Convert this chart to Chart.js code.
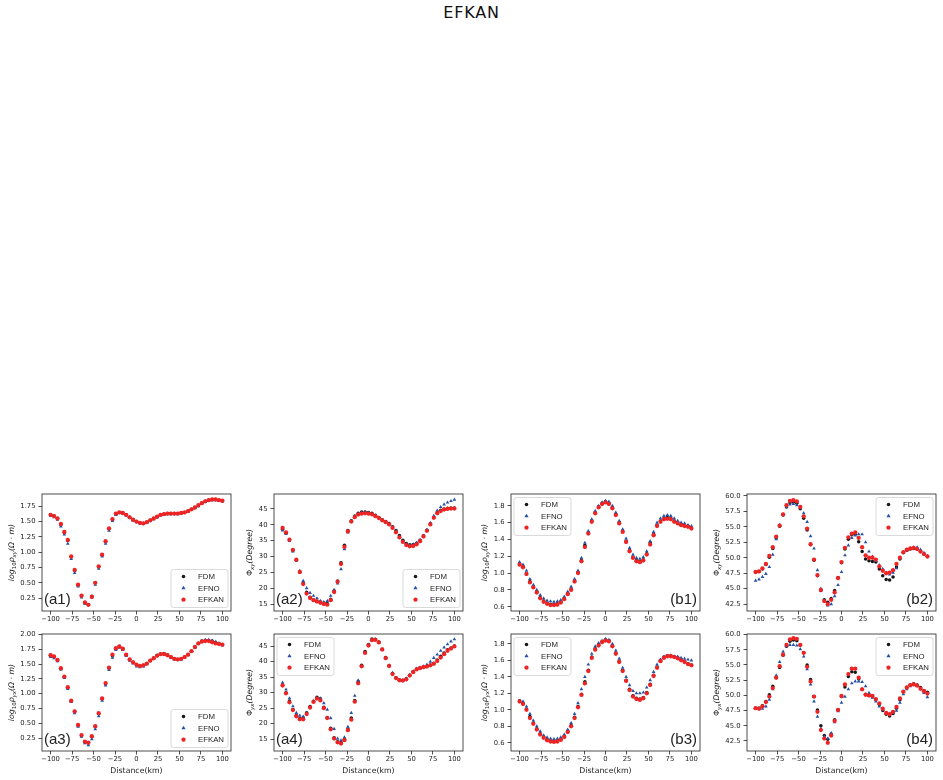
<!DOCTYPE html>
<html>
<head>
<meta charset="utf-8">
<title>EFKAN</title>
<script src="https://cdn.jsdelivr.net/npm/chart.js@4.4.1/dist/chart.umd.min.js"></script>
<style>
  body { margin: 0; background: #fff; width: 943px; height: 780px; position: relative; overflow: hidden; }
  #title { position: absolute; top: 5px; left: 0; width: 943px; text-align: center;
           font: 16px/16px 'DejaVu Sans', sans-serif; letter-spacing: 0.8px; color: #111; }
  canvas { position: absolute; }
</style>
</head>
<body>
<div id="title">EFKAN</div>
<script>
// ── Data ───────────────────────────────────────────────────────────────────────

const distanceKm = [-100,-96,-92,-88,-84,-80,-76,-72,-68,-64,-60,-56,-52,-48,-44,-40,-36,-32,-28,-24,
  -20,-16,-12,-8,-4,0,4,8,12,16,20,24,28,32,36,40,44,48,52,56,60,64,68,72,76,80,84,88,92,96,100];
const xTicks = [-100, -75, -50, -25, 0, 25, 50, 75, 100];

const rhoTicksA1 = [0.25, 0.5, 0.75, 1.0, 1.25, 1.5, 1.75];
const rhoTicksA3 = [0.25, 0.5, 0.75, 1.0, 1.25, 1.5, 1.75, 2.0];
const rhoTicksB = [0.6, 0.8, 1.0, 1.2, 1.4, 1.6, 1.8];
const phaseTicksA = [15, 20, 25, 30, 35, 40, 45];
const phaseTicksB = [42.5, 45, 47.5, 50, 52.5, 55, 57.5, 60];

const seriesNames = ['FDM', 'EFNO', 'EFKAN'];

// (a1) log10 rho_xy
const a1FDM = [1.61,1.59,1.55,1.45,1.32,1.19,0.92,0.70,0.46,0.29,
  0.17,0.14,0.28,0.50,0.76,0.95,1.17,1.38,1.53,1.62,
  1.65,1.64,1.61,1.57,1.53,1.50,1.48,1.47,1.49,1.52,
  1.55,1.58,1.61,1.62,1.63,1.63,1.63,1.63,1.64,1.65,
  1.67,1.70,1.73,1.76,1.80,1.83,1.85,1.86,1.86,1.85,
  1.84];
const a1EFNO = [1.59,1.57,1.53,1.42,1.29,1.14,0.89,0.66,0.44,0.26,
  0.16,0.14,0.26,0.47,0.73,0.93,1.14,1.35,1.51,1.61,
  1.64,1.63,1.60,1.56,1.52,1.49,1.47,1.46,1.48,1.51,
  1.54,1.57,1.60,1.61,1.62,1.62,1.62,1.62,1.63,1.64,
  1.66,1.69,1.72,1.75,1.79,1.82,1.84,1.85,1.85,1.84,
  1.83];
const a1EFKAN = [1.61,1.59,1.55,1.46,1.33,1.20,0.93,0.71,0.47,0.29,
  0.18,0.14,0.27,0.50,0.77,0.96,1.18,1.39,1.54,1.63,
  1.65,1.64,1.61,1.57,1.53,1.50,1.48,1.47,1.49,1.52,
  1.55,1.58,1.61,1.62,1.63,1.63,1.63,1.63,1.64,1.65,
  1.67,1.70,1.73,1.77,1.80,1.83,1.85,1.86,1.86,1.85,
  1.84];

// (a2) phase xy
const a2FDM = [38.6,37.3,35.2,31.9,28.8,25.0,21.6,18.7,17.1,16.3,
  15.9,15.6,15.3,15.2,16.5,19.1,22.3,28.0,33.5,38.2,
  41.3,42.8,43.6,44.0,44.0,43.9,43.6,43.0,42.3,41.6,
  41.0,40.4,39.4,38.2,36.6,35.1,34.1,33.7,33.8,34.2,
  35.1,36.5,38.3,40.3,42.4,43.8,44.6,45.0,45.2,45.3,
  45.3];
const a2EFNO = [38.2,37.2,34.9,31.6,28.8,25.5,22.3,20.0,18.5,17.6,
  16.8,16.0,15.6,16.0,17.6,19.5,21.5,26.0,32.3,37.6,
  41.0,42.6,43.5,43.8,43.8,43.7,43.4,42.8,42.2,41.5,
  40.9,40.2,39.2,38.0,36.3,34.8,33.8,33.6,33.8,34.3,
  35.2,36.6,38.5,40.6,42.8,44.5,45.6,46.4,47.0,47.5,
  47.9];
const a2EFKAN = [39.0,37.6,35.3,32.1,29.0,25.1,21.3,18.3,16.9,16.2,
  15.8,15.4,15.0,14.8,16.2,18.8,22.0,27.6,33.0,37.9,
  41.0,42.4,43.2,43.5,43.6,43.5,43.3,42.7,42.1,41.4,
  40.8,40.1,39.0,37.6,36.0,34.6,33.6,33.2,33.3,33.8,
  34.8,36.3,38.1,40.1,42.2,43.6,44.3,44.8,45.0,45.1,
  45.1];

// (b1) log10 rho_xy
const b1FDM = [1.11,1.08,0.99,0.90,0.84,0.78,0.71,0.67,0.645,0.63,
  0.63,0.635,0.66,0.70,0.76,0.81,0.91,1.01,1.15,1.33,
  1.48,1.62,1.72,1.79,1.83,1.85,1.83,1.78,1.70,1.60,
  1.50,1.38,1.27,1.19,1.15,1.14,1.16,1.23,1.36,1.46,
  1.57,1.62,1.65,1.66,1.65,1.62,1.60,1.58,1.57,1.56,
  1.54];
const b1EFNO = [1.13,1.10,1.03,0.93,0.86,0.80,0.74,0.70,0.675,0.665,
  0.66,0.665,0.68,0.72,0.78,0.84,0.93,1.03,1.18,1.36,
  1.50,1.64,1.74,1.80,1.84,1.86,1.85,1.80,1.72,1.62,
  1.52,1.41,1.30,1.22,1.18,1.17,1.19,1.26,1.38,1.49,
  1.60,1.65,1.68,1.69,1.68,1.65,1.62,1.60,1.59,1.57,
  1.56];
const b1EFKAN = [1.10,1.07,0.99,0.89,0.83,0.77,0.70,0.66,0.635,0.62,
  0.62,0.625,0.65,0.69,0.75,0.80,0.90,1.00,1.14,1.31,
  1.47,1.61,1.71,1.78,1.82,1.84,1.82,1.77,1.69,1.59,
  1.49,1.37,1.26,1.18,1.14,1.13,1.15,1.22,1.34,1.45,
  1.56,1.61,1.64,1.645,1.64,1.61,1.59,1.57,1.56,1.55,
  1.53];

// (b2) phase xy
const b2FDM = [47.7,47.8,48.2,48.9,50.1,51.5,53.2,55.1,56.9,58.2,
  58.9,59.0,58.8,57.9,56.4,54.5,52.1,49.6,47.1,44.7,
  43.2,42.8,43.4,44.7,46.8,49.2,51.4,53.0,53.7,53.8,
  52.6,51.0,49.8,49.5,49.4,49.3,48.2,47.1,46.5,46.4,
  46.9,48.5,49.8,50.8,51.2,51.4,51.5,51.4,51.0,50.6,
  50.2];
const b2EFNO = [46.3,46.5,46.9,47.4,48.5,50.5,53.0,55.3,57.0,58.2,
  58.6,58.7,58.5,58.0,57.2,55.8,53.5,51.5,48.0,45.0,
  43.0,42.3,42.5,43.8,45.6,47.7,50.4,52.0,53.2,53.6,
  53.8,53.8,52.5,51.0,50.2,49.5,48.8,48.2,47.6,47.3,
  47.6,48.3,49.9,50.8,51.2,51.5,51.7,51.7,51.3,50.8,
  50.3];
const b2EFKAN = [47.7,47.8,48.3,49.0,50.3,51.7,53.4,55.2,57.0,58.5,
  59.2,59.3,59.1,58.2,56.7,54.7,52.2,49.7,47.2,44.8,
  43.0,42.5,43.2,44.4,46.7,49.3,51.6,53.3,53.9,54.1,
  53.2,51.7,50.4,50.0,50.0,49.7,48.6,47.9,47.5,47.6,
  48.0,49.0,50.0,50.9,51.3,51.5,51.6,51.4,51.0,50.6,
  50.2];

// (a3) log10 rho_yx
const a3FDM = [1.65,1.62,1.56,1.42,1.28,1.10,0.87,0.70,0.46,0.29,
  0.18,0.17,0.27,0.44,0.66,0.91,1.17,1.43,1.64,1.76,
  1.80,1.75,1.65,1.58,1.53,1.49,1.47,1.48,1.51,1.56,
  1.60,1.65,1.67,1.68,1.66,1.62,1.59,1.58,1.59,1.62,
  1.66,1.72,1.78,1.85,1.89,1.90,1.90,1.89,1.87,1.85,
  1.83];
const a3EFNO = [1.62,1.60,1.55,1.41,1.27,1.08,0.86,0.67,0.44,0.27,
  0.16,0.13,0.23,0.40,0.62,0.88,1.14,1.40,1.61,1.74,
  1.78,1.74,1.64,1.56,1.51,1.46,1.45,1.46,1.50,1.55,
  1.60,1.65,1.67,1.67,1.65,1.61,1.58,1.57,1.58,1.61,
  1.66,1.72,1.79,1.85,1.89,1.91,1.91,1.90,1.87,1.85,
  1.82];
const a3EFKAN = [1.65,1.63,1.57,1.43,1.29,1.11,0.88,0.70,0.47,0.30,
  0.19,0.17,0.28,0.45,0.67,0.92,1.18,1.44,1.66,1.77,
  1.80,1.76,1.66,1.58,1.53,1.49,1.47,1.48,1.51,1.56,
  1.60,1.64,1.67,1.67,1.65,1.62,1.59,1.58,1.59,1.62,
  1.66,1.72,1.79,1.85,1.88,1.89,1.89,1.87,1.85,1.84,
  1.83];

// (a4) phase yx
const a4FDM = [32.5,30.0,27.3,24.6,22.6,21.7,21.8,23.5,25.5,27.2,
  28.5,28.0,25.3,22.0,18.5,15.5,14.2,13.9,15.0,18.3,
  21.8,27.5,33.5,38.8,43.3,45.5,47.3,47.2,46.3,44.0,
  41.3,38.7,36.2,34.8,34.1,34.0,34.5,35.6,36.8,37.6,
  38.0,38.3,38.5,38.9,39.5,40.5,41.7,42.8,43.8,44.4,
  45.0];
const a4EFNO = [33.2,31.0,28.2,25.6,23.5,22.6,22.3,23.4,25.3,27.2,
  28.2,28.2,26.6,24.5,21.8,18.3,15.2,14.6,15.6,19.0,
  23.5,29.0,34.0,38.5,43.0,45.4,47.1,47.1,46.2,43.9,
  41.3,38.8,36.4,34.8,34.1,34.0,34.6,35.7,36.9,37.7,
  38.1,38.5,39.0,40.0,41.2,42.3,43.5,44.6,45.6,46.5,
  47.2];
const a4EFKAN = [32.3,29.8,26.9,24.4,22.4,21.4,21.4,23.1,25.2,27.0,
  28.1,27.5,25.0,21.8,18.2,15.2,14.0,13.6,14.7,17.9,
  21.3,27.1,33.0,38.5,42.8,45.2,46.9,47.0,46.2,43.9,
  41.1,38.6,36.0,34.7,34.0,33.9,34.3,35.5,36.6,37.5,
  37.9,38.2,38.4,38.8,39.3,40.2,41.3,42.4,43.5,44.2,
  44.9];

// (b3) log10 rho_yx
const b3FDM = [1.11,1.08,1.01,0.92,0.84,0.77,0.71,0.67,0.64,0.625,
  0.62,0.625,0.645,0.68,0.74,0.81,0.91,1.04,1.19,1.34,
  1.48,1.64,1.74,1.79,1.83,1.85,1.84,1.78,1.69,1.59,
  1.48,1.36,1.25,1.17,1.14,1.13,1.15,1.21,1.31,1.42,
  1.52,1.60,1.64,1.655,1.655,1.645,1.635,1.61,1.585,1.56,
  1.545];
const b3EFNO = [1.11,1.10,1.04,0.95,0.87,0.80,0.74,0.69,0.665,0.65,
  0.645,0.65,0.665,0.70,0.76,0.84,0.95,1.08,1.25,1.40,
  1.55,1.68,1.77,1.81,1.84,1.86,1.85,1.80,1.72,1.62,
  1.51,1.40,1.30,1.23,1.20,1.20,1.21,1.27,1.36,1.46,
  1.55,1.61,1.64,1.655,1.66,1.65,1.645,1.63,1.62,1.61,
  1.60];
const b3EFKAN = [1.10,1.07,1.00,0.90,0.83,0.76,0.70,0.66,0.63,0.615,
  0.61,0.615,0.635,0.67,0.73,0.80,0.90,1.03,1.18,1.32,
  1.47,1.63,1.73,1.78,1.82,1.84,1.83,1.77,1.68,1.58,
  1.47,1.35,1.24,1.16,1.13,1.12,1.14,1.20,1.30,1.41,
  1.51,1.59,1.63,1.65,1.65,1.64,1.625,1.60,1.58,1.555,
  1.54];

// (b4) phase yx
const b4FDM = [47.9,47.9,48.3,49.0,50.1,51.5,53.0,54.6,56.6,58.1,
  58.9,59.1,59.0,58.3,57.0,55.0,52.6,49.8,47.6,45.0,
  43.4,42.8,43.6,46.0,47.6,49.8,51.4,53.1,53.9,53.8,
  52.7,51.0,50.2,50.0,49.8,49.3,48.5,47.5,46.9,46.6,
  47.0,47.9,49.3,50.6,51.3,51.7,51.9,51.7,51.3,50.8,
  50.5];
const b4EFNO = [47.8,47.9,47.8,48.2,49.3,51.0,53.3,55.5,57.2,58.1,
  58.3,58.3,58.2,57.6,56.4,54.3,51.8,49.0,46.5,44.5,
  43.2,42.9,43.8,45.6,47.4,48.8,49.8,51.0,52.0,52.3,
  52.3,52.2,51.5,50.4,49.6,49.0,48.2,47.6,47.1,47.0,
  47.1,47.5,48.8,50.2,51.0,51.5,51.8,51.6,51.0,50.4,
  49.7];
const b4EFKAN = [47.9,47.8,48.2,48.9,49.8,51.2,52.9,54.8,56.7,58.3,
  59.2,59.4,59.3,58.3,57.0,54.7,52.3,49.8,47.3,44.3,
  42.9,42.2,43.4,45.8,47.6,49.9,51.8,53.5,54.4,54.4,
  52.9,51.0,50.1,50.0,49.9,49.4,48.7,47.8,47.1,46.9,
  47.3,48.1,49.5,50.6,51.3,51.7,51.8,51.6,51.1,50.7,
  50.3];

// ── Styling / layout ──────────────────────────────────────────────────────────

const INK = '#222';
const FONT = "'DejaVu Sans', sans-serif";
const SANS = "'Liberation Sans', Arial, sans-serif";
Chart.defaults.font.family = FONT;
Chart.defaults.color = INK;

// marker look per series, in seriesNames order; lower `order` is drawn on top
const SERIES_STYLE = [
  { color: '#161616', pointStyle: 'circle',   radius: 1.75, order: 2 },
  { color: '#2451a6', pointStyle: 'triangle', radius: 2.1,  order: 1 },
  { color: '#ee2424', pointStyle: 'circle',   radius: 2.15, order: 0 },
];

// y-axis titles as (text, style) runs: i = italic, r = roman, s = subscript, si = italic subscript
const Y_TITLES = {
  rhoxy: [['log', 'i'], ['10', 's'], ['ρ', 'i'], ['xy', 'si'], ['(Ω · m)', 'i']],
  rhoyx: [['log', 'i'], ['10', 's'], ['ρ', 'i'], ['yx', 'si'], ['(Ω · m)', 'i']],
  phixy: [['Φ', 'r'], ['xy', 'si'], ['(Degree)', 'i']],
  phiyx: [['Φ', 'r'], ['yx', 'si'], ['(Degree)', 'i']],
};

const COL_LEFT = [42, 274, 511, 747];   // plot-box left edges
const ROW_TOP = [494, 634];             // plot-box top edges
const BOX_W = 189, BOX_H = 117;
const Y_AXIS_W = 42, PAD_TOP = 4, PAD_RIGHT = 4;

const panels = [
  { tag: '(a1)', col: 0, row: 0, series: [a1FDM, a1EFNO, a1EFKAN], yMin: 0.04, yMax: 1.95, yTicks: rhoTicksA1, dec: 2, yTitle: 'rhoxy', tagSide: 'left',  legend: 'br' },
  { tag: '(a2)', col: 1, row: 0, series: [a2FDM, a2EFNO, a2EFKAN], yMin: 12.8, yMax: 49.7, yTicks: phaseTicksA, dec: 0, yTitle: 'phixy', tagSide: 'left',  legend: 'br' },
  { tag: '(b1)', col: 2, row: 0, series: [b1FDM, b1EFNO, b1EFKAN], yMin: 0.55, yMax: 1.94, yTicks: rhoTicksB,  dec: 1, yTitle: 'rhoxy', tagSide: 'right', legend: 'tl' },
  { tag: '(b2)', col: 3, row: 0, series: [b2FDM, b2EFNO, b2EFKAN], yMin: 41.4, yMax: 60.3, yTicks: phaseTicksB, dec: 1, yTitle: 'phixy', tagSide: 'right', legend: 'tr' },
  { tag: '(a3)', col: 0, row: 1, series: [a3FDM, a3EFNO, a3EFKAN], yMin: 0.03, yMax: 2.01, yTicks: rhoTicksA3, dec: 2, yTitle: 'rhoyx', tagSide: 'left',  legend: 'br' },
  { tag: '(a4)', col: 1, row: 1, series: [a4FDM, a4EFNO, a4EFKAN], yMin: 11.2, yMax: 48.9, yTicks: phaseTicksA, dec: 0, yTitle: 'phiyx', tagSide: 'left',  legend: 'tl' },
  { tag: '(b3)', col: 2, row: 1, series: [b3FDM, b3EFNO, b3EFKAN], yMin: 0.50, yMax: 1.92, yTicks: rhoTicksB,  dec: 1, yTitle: 'rhoyx', tagSide: 'right', legend: 'tl' },
  { tag: '(b4)', col: 3, row: 1, series: [b4FDM, b4EFNO, b4EFKAN], yMin: 40.85, yMax: 60.1, yTicks: phaseTicksB, dec: 1, yTitle: 'phiyx', tagSide: 'right', legend: 'tr' },
];

const fmtKm = v => (v < 0 ? '\u2212' + Math.abs(v) : String(v));

// ── Drawing helpers ───────────────────────────────────────────────────────────

function drawMathLabel(ctx, parts, cx, cy, size) {
  const fontFor = p => {
    const sub = p[1].startsWith('s');
    const ital = p[1].includes('i');
    return `${ital ? 'italic ' : ''}${sub ? size * 0.7 : size}px ${FONT}`;
  };
  let total = 0;
  parts.forEach(p => { ctx.font = fontFor(p); total += ctx.measureText(p[0]).width; });

  ctx.save();
  ctx.translate(cx, cy);
  ctx.rotate(-Math.PI / 2);
  ctx.fillStyle = INK;
  ctx.textAlign = 'left';
  ctx.textBaseline = 'alphabetic';
  let x = -total / 2;
  const base = size * 0.36;
  parts.forEach(p => {
    ctx.font = fontFor(p);
    ctx.fillText(p[0], x, base + (p[1].startsWith('s') ? size * 0.28 : 0));
    x += ctx.measureText(p[0]).width;
  });
  ctx.restore();
}

function drawMarker(ctx, style, x, y, r) {
  ctx.beginPath();
  if (style === 'triangle') {
    ctx.moveTo(x, y - r * 1.15);
    ctx.lineTo(x + r, y + r * 0.6);
    ctx.lineTo(x - r, y + r * 0.6);
    ctx.closePath();
  } else {
    ctx.arc(x, y, r, 0, Math.PI * 2);
  }
  ctx.fill();
}

function panelDecor(p) {
  return {
    id: 'panelDecor',
    afterDatasetsDraw(chart) {
      const { ctx, chartArea: a } = chart;
      ctx.save();

      // frame (all four spines)
      ctx.strokeStyle = INK;
      ctx.lineWidth = 0.8;
      ctx.strokeRect(a.left, a.top, a.right - a.left, a.bottom - a.top);

      // panel tag
      ctx.font = `15px ${SANS}`;
      ctx.fillStyle = INK;
      ctx.textBaseline = 'alphabetic';
      if (p.tagSide === 'left') {
        ctx.textAlign = 'left';
        ctx.fillText(p.tag, a.left + 2, a.bottom - 7.5);
      } else {
        ctx.textAlign = 'right';
        ctx.fillText(p.tag, a.right - 3, a.bottom - 7.5);
      }

      // legend box
      const W = 57, H = 38;
      const lx = p.legend.includes('r') ? a.right - 3 - W : a.left + 3;
      const ly = p.legend.includes('b') ? a.bottom - 3.5 - H : a.top + 3.5;
      ctx.beginPath();
      if (ctx.roundRect) ctx.roundRect(lx, ly, W, H, 2.5); else ctx.rect(lx, ly, W, H);
      ctx.fillStyle = 'rgba(255,255,255,0.85)';
      ctx.fill();
      ctx.strokeStyle = '#d0d0d0';
      ctx.lineWidth = 0.8;
      ctx.stroke();

      ctx.font = `7.8px ${SANS}`;
      ctx.textAlign = 'left';
      ctx.textBaseline = 'middle';
      seriesNames.forEach((name, i) => {
        const st = SERIES_STYLE[i];
        const y = ly + 7 + i * 11.6;
        ctx.fillStyle = st.color;
        drawMarker(ctx, st.pointStyle, lx + 12.5, y, st.radius);
        ctx.fillStyle = INK;
        ctx.fillText(name, lx + 27, y + 0.5);
      });

      // y-axis title, left of the widest tick label
      ctx.font = `6.8px ${FONT}`;
      const labelW = Math.max(...p.yTicks.map(v => ctx.measureText(v.toFixed(p.dec)).width));
      const tx = a.left - 3.5 - 3 - labelW - 5.5 - 4;
      drawMathLabel(ctx, Y_TITLES[p.yTitle], tx, (a.top + a.bottom) / 2, 7.8);

      ctx.restore();
    },
  };
}

// ── Build the eight panels ────────────────────────────────────────────────────

panels.forEach(p => {
  const xAxisH = p.row === 1 ? 27 : 16;
  const w = Y_AXIS_W + BOX_W + PAD_RIGHT;
  const h = PAD_TOP + BOX_H + xAxisH;

  const canvas = document.createElement('canvas');
  canvas.width = w;
  canvas.height = h;
  canvas.style.left = (COL_LEFT[p.col] - Y_AXIS_W) + 'px';
  canvas.style.top = (ROW_TOP[p.row] - PAD_TOP) + 'px';
  document.body.appendChild(canvas);

  const datasets = seriesNames.map((name, i) => {
    const st = SERIES_STYLE[i];
    return {
      label: name,
      data: distanceKm.map((x, k) => ({ x, y: p.series[i][k] })),
      pointStyle: st.pointStyle,
      pointRadius: st.radius,
      pointBackgroundColor: st.color,
      pointBorderWidth: 0,
      borderColor: st.color,
      backgroundColor: st.color,
      showLine: false,
      order: st.order,
    };
  });

  const tickGrid = { drawOnChartArea: false, drawTicks: true, tickLength: 3.5, color: INK, lineWidth: 0.8 };

  new Chart(canvas, {
    type: 'scatter',
    data: { datasets },
    options: {
      responsive: false,
      animation: false,
      events: [],
      layout: { padding: { top: PAD_TOP, right: PAD_RIGHT, bottom: 0, left: 0 } },
      plugins: { legend: { display: false }, tooltip: { enabled: false } },
      scales: {
        x: {
          type: 'linear',
          min: -110,
          max: 110,
          afterBuildTicks: s => { s.ticks = xTicks.map(v => ({ value: v })); },
          ticks: { font: { size: 6.8 }, color: INK, padding: 1, maxRotation: 0, autoSkip: false, callback: v => fmtKm(v) },
          grid: tickGrid,
          border: { display: false },
          title: { display: p.row === 1, text: 'Distance(km)', font: { size: 7.8 }, color: INK, padding: { top: 0, bottom: 2 } },
          afterFit: s => { s.height = xAxisH; s.paddingLeft = 0; s.paddingRight = 0; },
        },
        y: {
          type: 'linear',
          min: p.yMin,
          max: p.yMax,
          afterBuildTicks: s => { s.ticks = p.yTicks.map(v => ({ value: v })); },
          ticks: { font: { size: 6.8 }, color: INK, padding: 3, autoSkip: false, callback: v => Number(v).toFixed(p.dec) },
          grid: tickGrid,
          border: { display: false },
          afterFit: s => { s.width = Y_AXIS_W; s.paddingTop = 0; s.paddingBottom = 0; },
        },
      },
    },
    plugins: [panelDecor(p)],
  });
});
</script>
</body>
</html>
